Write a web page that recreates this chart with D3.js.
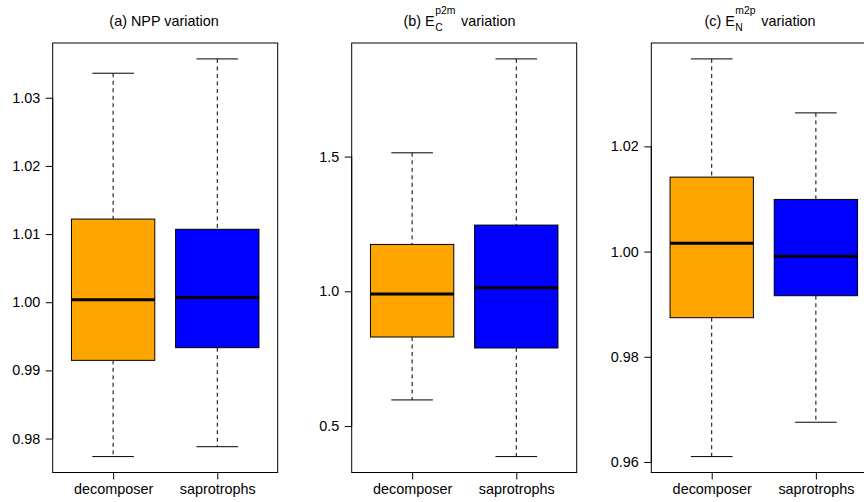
<!DOCTYPE html>
<html>
<head>
<meta charset="utf-8">
<script src="https://cdn.jsdelivr.net/npm/d3@7"></script>
<style>
  html, body { margin: 0; padding: 0; background: #fff; }
  svg { display: block; }
  text { font-family: "Liberation Sans", Arial, Helvetica, sans-serif; fill: #000; white-space: pre; }
</style>
</head>
<body>
<svg id="chart" width="864" height="502"></svg>
<script>
// ---- data ----
const categories = ["decomposer", "saprotrophs"];
const fillColors = ["#FFA500", "#0000FF"];
// stats: [lower whisker, Q1, median, Q3, upper whisker]
const nppStats   = [[0.97735, 0.99147, 1.00037, 1.01220, 1.03360],
                    [0.97880, 0.99333, 1.00070, 1.01070, 1.03570]];
const ecStats    = [[0.5970, 0.8305, 0.9900, 1.1740, 1.5140],
                    [0.3867, 0.7898, 1.0134, 1.2458, 1.8625]];
const enStats    = [[0.96103, 0.98743, 1.00160, 1.01415, 1.03662],
                    [0.96756, 0.99161, 0.99909, 1.00991, 1.02636]];
const nppTicks = [0.98, 0.99, 1.00, 1.01, 1.02, 1.03];
const nppTickLabels = ["0.98", "0.99", "1.00", "1.01", "1.02", "1.03"];
const ecTicks = [0.5, 1.0, 1.5];
const ecTickLabels = ["0.5", "1.0", "1.5"];
const enTicks = [0.96, 0.98, 1.00, 1.02];
const enTickLabels = ["0.96", "0.98", "1.00", "1.02"];
const titleA = "(a) NPP variation";
const titleB = {pre: "(b) E", sub: "C", sup: "p2m", post: "variation"};
const titleC = {pre: "(c) E", sub: "N", sup: "m2p", post: "variation"};

// ---- layout ----
const svg = d3.select("#chart");
const FS = 14.4;
const plotTop = 43, plotBottom = 472.5;
const panels = [
  {left: 52.7, right: 277.7, stats: nppStats, ticks: nppTicks, labels: nppTickLabels, title: titleA, tcx: 164},
  {left: 351.7, right: 576.7, stats: ecStats, ticks: ecTicks, labels: ecTickLabels, title: titleB, tcx: 459.5},
  {left: 651.3, right: 876.3, stats: enStats, ticks: enTicks, labels: enTickLabels, title: titleC, tcx: 760}
];

panels.forEach(p => {
  const g = svg.append("g");
  const all = p.stats.flat();
  const lo = d3.min(all), hi = d3.max(all);
  const pad = (hi - lo) * 0.04;
  const y = d3.scaleLinear().domain([lo - pad, hi + pad]).range([plotBottom, plotTop]);
  const x = d3.scaleLinear().domain([0.42, 2.58]).range([p.left, p.right]);
  const bw = x(1.4) - x(1.0);      // half box width
  const cw = x(1.2) - x(1.0);      // half cap width

  p.stats.forEach((s, i) => {
    const cx = x(i + 1);
    g.append("line").attr("x1", cx).attr("x2", cx).attr("y1", y(s[4])).attr("y2", y(s[3]))
      .attr("stroke", "#000").attr("stroke-width", 1).attr("stroke-dasharray", "4,3.5");
    g.append("line").attr("x1", cx).attr("x2", cx).attr("y1", y(s[1])).attr("y2", y(s[0]))
      .attr("stroke", "#000").attr("stroke-width", 1).attr("stroke-dasharray", "4,3.5");
    [s[0], s[4]].forEach(v => {
      g.append("line").attr("x1", cx - cw).attr("x2", cx + cw).attr("y1", y(v)).attr("y2", y(v))
        .attr("stroke", "#000").attr("stroke-width", 1);
    });
    g.append("rect").attr("x", cx - bw).attr("width", 2 * bw)
      .attr("y", y(s[3])).attr("height", y(s[1]) - y(s[3]))
      .attr("fill", fillColors[i]).attr("stroke", "#000").attr("stroke-width", 1);
    g.append("line").attr("x1", cx - bw).attr("x2", cx + bw).attr("y1", y(s[2])).attr("y2", y(s[2]))
      .attr("stroke", "#000").attr("stroke-width", 3);
  });

  g.append("rect").attr("x", p.left).attr("y", plotTop).attr("width", p.right - p.left).attr("height", plotBottom - plotTop)
    .attr("fill", "none").attr("stroke", "#000").attr("stroke-width", 1);

  const ya = g.append("g").attr("transform", `translate(${p.left},0)`)
    .call(d3.axisLeft(y).tickValues(p.ticks).tickFormat((d, i) => p.labels[i]).tickSize(7).tickPadding(5.5));
  ya.select(".domain").attr("d", `M0,${y(p.ticks[0])}V${y(p.ticks[p.ticks.length - 1])}`);
  ya.selectAll("text").attr("font-size", FS).attr("font-family", null).attr("fill", "#000");
  ya.selectAll("line,path").attr("stroke", "#000");

  const xa = g.append("g").attr("transform", `translate(0,${plotBottom})`)
    .call(d3.axisBottom(x).tickValues([1, 2]).tickFormat((d, i) => categories[i]).tickSize(7).tickPadding(0));
  xa.select(".domain").attr("d", `M${x(1)},0H${x(2)}`);
  xa.selectAll("text").attr("font-size", FS).attr("font-family", null).attr("fill", "#000")
    .attr("dy", null).attr("y", 21.5);
  xa.selectAll("line,path").attr("stroke", "#000");

  const tb = 25.5;
  if (typeof p.title === "string") {
    g.append("text").attr("x", p.tcx).attr("y", tb).attr("text-anchor", "middle")
      .attr("font-size", FS).text(p.title);
  } else {
    const tg = g.append("g");
    const t1 = tg.append("text").attr("x", 0).attr("y", tb).attr("font-size", FS).text(p.title.pre);
    const w1 = t1.node().getComputedTextLength();
    const sfs = FS * 0.72;
    const ts = tg.append("text").attr("x", w1 + 0.5).attr("y", tb + 5).attr("font-size", sfs).text(p.title.sub);
    const tp = tg.append("text").attr("x", w1 + 0.5).attr("y", tb - 12).attr("font-size", sfs).text(p.title.sup);
    const w2 = Math.max(ts.node().getComputedTextLength(), tp.node().getComputedTextLength());
    const gap = FS * 0.4;
    const t3 = tg.append("text").attr("x", w1 + 0.5 + w2 + gap).attr("y", tb).attr("font-size", FS).text(p.title.post);
    const total = w1 + 0.5 + w2 + gap + t3.node().getComputedTextLength();
    tg.attr("transform", `translate(${p.tcx - total / 2},0)`);
  }
});
</script>
</body>
</html>
